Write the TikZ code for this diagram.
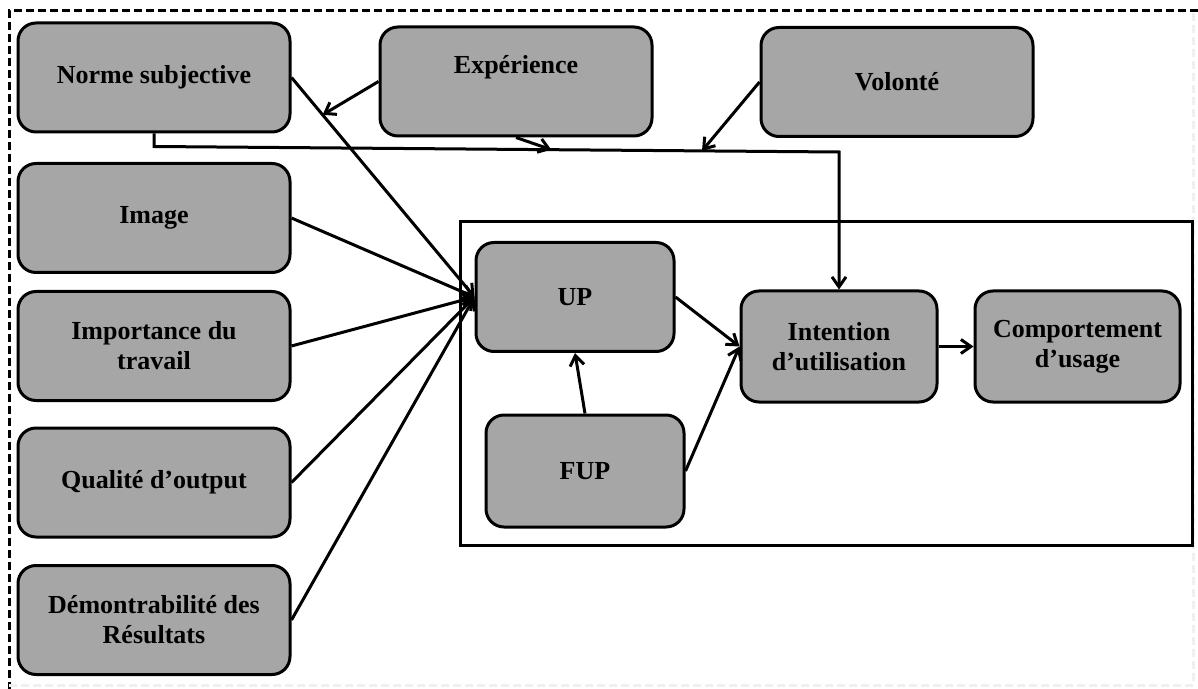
\documentclass[tikz,border=0pt]{standalone}
\usepackage{fontspec}
\setmainfont{Liberation Serif}
\usepackage{xcolor}
\usepackage{tikz}
\usetikzlibrary{arrows.meta,calc}

\definecolor{grisbloc}{RGB}{166,166,166}

\begin{document}
\begin{tikzpicture}[x=0.5pt,y=-0.5pt,font=\bfseries\fontsize{13}{15}\selectfont,
  >={Straight Barb[length=5pt,width=7pt]},
  bloc/.style={draw,fill=grisbloc,rounded corners=9pt,line width=1.5pt,
    minimum width=136pt,minimum height=54.5pt,align=center,inner sep=2pt},
  fleche/.style={->,line width=1.5pt},
  pointille/.style={line width=1.5pt,dash pattern=on 4pt off 2pt}]
\useasboundingbox (0,0) rectangle (1198,689);

% Outer frame
\draw[pointille] (1198,11) -- (9,11) -- (9,689);
\draw[pointille,black!6] (9,685) -- (1193,685) -- (1193,11);

% Left column
\node[bloc] (norme) at (154,77.5) {Norme subjective};
\node[bloc] (image) at (154,218) {Image};
\node[bloc] (importance) at (154,346) {Importance du\\travail};
\node[bloc] (qualite) at (154,482.5) {Qualité d’output};
\node[bloc] (demo) at (154,620) {Démontrabilité des\\Résultats};

% Top row
\node[bloc,label={[yshift=7.25pt]center:Expérience}] (exp) at (516,81.5) {};
\node[bloc] (vol) at (897,82) {Volonté};

% Model frame
\draw[line width=1.5pt] (460,222) rectangle (1192,545);
\node[bloc,minimum width=99pt] (up) at (575,297) {UP};
\node[bloc,minimum width=99pt,minimum height=56pt] (fup) at (585,471) {FUP};
\node[bloc,minimum width=98pt,minimum height=55.5pt] (intention) at (839,346.5) {Intention\\d’utilisation};
\node[bloc,minimum width=102.5pt,minimum height=55.5pt] (comport) at (1077.5,346.5) {Comportement\\d’usage};

% Determinants of UP
\draw[fleche] (norme.east) -- (up.west);
\draw[fleche] (image.east) -- (up.west);
\draw[fleche] (importance.east) -- (up.west);
\draw[fleche] (qualite.east) -- (up.west);
\draw[fleche] (demo.east) -- (up.west);
\draw[fleche] (fup.north) -- (up.south);

% Norme subjective to intention
\coordinate (depart) at ($(norme.south)+(0,13)$);
\coordinate (coude) at (intention.north |- 0,152);
\draw[fleche] (norme.south) -- (depart) -- (coude) -- (intention.north);

% Moderators
\draw[fleche] (exp.west) -- ($(norme.east)!0.17!(up.west)$);
\draw[fleche] (exp.south) -- ($(depart)!0.58!(coude)$);
\draw[fleche] (vol.west) -- ($(depart)!0.8!(coude)$);

% Intention and behaviour
\draw[fleche] (up.east) -- (intention.west);
\draw[fleche] (fup.east) -- (intention.west);
\draw[fleche] (intention.east) -- (comport.west);
\end{tikzpicture}
\end{document}
